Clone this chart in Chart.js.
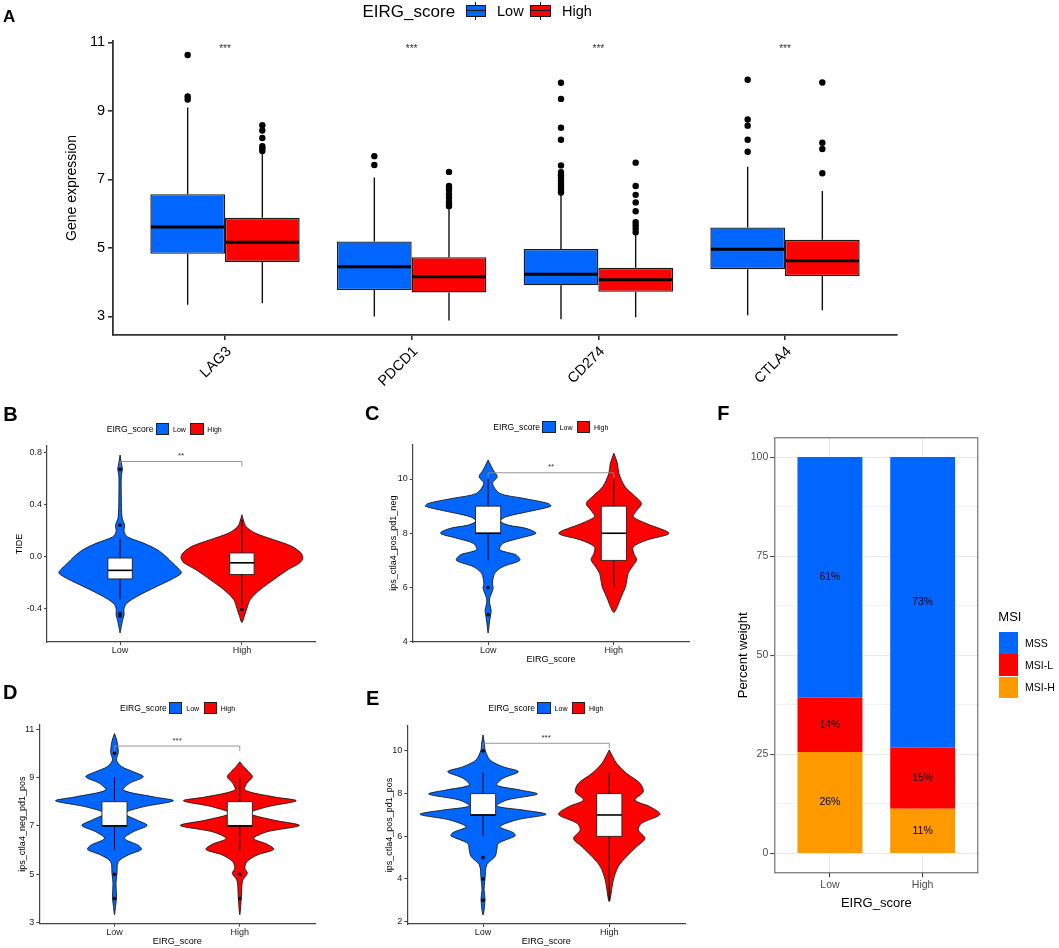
<!DOCTYPE html>
<html><head><meta charset="utf-8">
<script src="https://cdn.jsdelivr.net/npm/chart.js@4.4.1/dist/chart.umd.min.js"></script>
<style>
body{margin:0;background:#fff;width:1059px;height:948px;overflow:hidden;position:relative;font-family:'Liberation Sans',Arial,Helvetica,sans-serif;}
canvas{position:absolute;left:0;top:0;}
.t{position:absolute;white-space:nowrap;line-height:1;color:#000;}
.k{position:absolute;box-sizing:border-box;}
</style></head><body>
<script>
// ---------------- DATA ----------------
// Panel A: gene expression boxplots
const genes = ['LAG3', 'PDCD1', 'CD274', 'CTLA4'];
const groupNames = ['Low', 'High'];
const aTickValues = [3, 5, 7, 9, 11];
const lowWhiskerMin = [3.34, 3.00, 2.92, 3.04];
const lowQ1 = [4.83, 3.77, 3.91, 4.38];
const lowMedian = [5.61, 4.45, 4.23, 4.96];
const lowQ3 = [6.57, 5.19, 4.97, 5.60];
const lowWhiskerMax = [9.10, 7.06, 6.55, 7.37];
const lowOutliers = [
  [9.33, 9.42, 10.63],
  [7.42, 7.68],
  [6.62, 6.70, 6.78, 6.86, 6.95, 7.04, 7.12, 7.21, 7.41, 8.16, 8.51, 9.35, 9.82],
  [7.81, 8.16, 8.57, 8.75, 9.91]
];
const highWhiskerMin = [3.39, 2.88, 2.98, 3.18];
const highQ1 = [4.59, 3.70, 3.72, 4.18];
const highMedian = [5.17, 4.16, 4.07, 4.63];
const highQ3 = [5.88, 4.73, 4.42, 5.24];
const highWhiskerMax = [7.78, 6.18, 5.40, 6.66];
const highOutliers = [
  [7.83, 7.90, 7.97, 8.21, 8.43, 8.58],
  [6.22, 6.28, 6.34, 6.46, 6.56, 6.69, 6.75, 6.81, 7.22],
  [5.46, 5.56, 5.66, 5.75, 6.07, 6.33, 6.55, 6.81, 7.49],
  [7.18, 7.89, 8.07, 9.83]
];
const aSignif = ['***', '***', '***', '***'];

// Panel B: TIDE violins (value, half-width in category units)
const tideTicks = [-0.4, 0, 0.4, 0.8];
const tideLowY = [0.78, 0.72, 0.67, 0.62, 0.45, 0.30, 0.24, 0.19, 0.15, 0.10, 0.05, 0.00, -0.05, -0.10, -0.13, -0.18, -0.23, -0.28, -0.33, -0.37, -0.41, -0.45, -0.49, -0.54, -0.59];
const tideLowW = [0, 0.010, 0.019, 0.010, 0.010, 0.016, 0.037, 0.033, 0.060, 0.197, 0.306, 0.375, 0.429, 0.484, 0.503, 0.416, 0.306, 0.197, 0.101, 0.047, 0.031, 0.033, 0.021, 0.010, 0];
const tideHighY = [0.32, 0.28, 0.23, 0.18, 0.128, 0.077, 0.026, -0.013, -0.05, -0.10, -0.18, -0.256, -0.333, -0.40, -0.46, -0.51];
const tideHighW = [0, 0.012, 0.033, 0.107, 0.26, 0.41, 0.484, 0.50, 0.476, 0.383, 0.26, 0.15, 0.068, 0.041, 0.02, 0];
const tideLowBox = [-0.333, -0.174, -0.108, -0.013, 0.14];   // whisker-lo, q1, median, q3, whisker-hi
const tideHighBox = [-0.38, -0.14, -0.05, 0.026, 0.28];
const tideLowOut = [0.67, 0.24, -0.44, -0.46];
const tideHighOut = [-0.41];

// Panel C: ips_ctla4_pos_pd1_neg
const cTicks = [4, 6, 8, 10];
const cLowY = [10.7, 10.33, 10.08, 9.84, 9.47, 9.29, 9.1, 9.0, 8.86, 8.61, 8.45, 8.3, 8.18, 8.0, 7.82, 7.63, 7.39, 7.2, 7.0, 6.77, 6.53, 6.16, 5.97, 5.54, 5.15, 5.0, 4.7, 4.32];
const cLowW = [0, 0.04, 0.072, 0.034, 0.093, 0.278, 0.477, 0.499, 0.382, 0.143, 0.098, 0.159, 0.302, 0.379, 0.252, 0.119, 0.093, 0.223, 0.252, 0.119, 0.053, 0.034, 0.04, 0.010, 0.024, 0.02, 0.01, 0];
const cHighY = [10.95, 10.58, 10.2, 9.72, 9.4, 9.1, 8.8, 8.61, 8.35, 8.0, 7.75, 7.5, 7.25, 7.02, 6.75, 6.53, 6.28, 6.03, 5.8, 5.54, 5.3, 5.08];
const cHighW = [0, 0.028, 0.04, 0.088, 0.159, 0.219, 0.175, 0.154, 0.263, 0.438, 0.263, 0.154, 0.159, 0.181, 0.143, 0.114, 0.103, 0.093, 0.072, 0.048, 0.028, 0];
const cLowBox = [7, 8, 8, 9, 10];
const cHighBox = [6, 7, 8, 9, 10];
const cLowOut = [6, 5];
const cHighOut = [];

// Panel D: ips_ctla4_neg_pd1_pos
const dTicks = [3, 5, 7, 9, 11];
const dLowY = [10.82, 10.5, 10.03, 9.72, 9.45, 9.24, 9.03, 8.76, 8.48, 8.2, 8.04, 7.79, 7.52, 7.24, 7.02, 6.76, 6.48, 6.2, 6.03, 5.8, 5.52, 5.04, 4.63, 4.04, 3.67, 3.33];
const dLowW = [0, 0.02, 0.03, 0.016, 0.056, 0.15, 0.23, 0.12, 0.07, 0.31, 0.47, 0.23, 0.08, 0.18, 0.26, 0.15, 0.08, 0.19, 0.215, 0.11, 0.03, 0.02, 0.012, 0.016, 0.008, 0];
const dHighY = [9.65, 9.45, 9.24, 9.03, 8.76, 8.48, 8.2, 8.04, 7.79, 7.52, 7.24, 7.02, 6.76, 6.48, 6.24, 6.03, 5.8, 5.52, 5.25, 5.04, 4.77, 4.5, 4.04, 3.33];
const dHighW = [0, 0.03, 0.07, 0.1, 0.056, 0.04, 0.27, 0.45, 0.22, 0.08, 0.27, 0.475, 0.22, 0.11, 0.22, 0.27, 0.14, 0.056, 0.04, 0.06, 0.024, 0.016, 0.012, 0];
const dLowBox = [6, 7, 7, 8, 9];
const dHighBox = [6, 7, 7, 8, 9];
const dLowOut = [10, 5, 4];
const dHighOut = [5, 4];

// Panel E: ips_ctla4_pos_pd1_pos
const eTicks = [2, 4, 6, 8, 10];
const eLowY = [10.75, 10.3, 10.05, 9.58, 9.26, 9.03, 8.72, 8.4, 8.17, 7.98, 7.7, 7.42, 7.23, 7.03, 6.77, 6.45, 6.17, 6.02, 5.67, 5.36, 5.05, 4.66, 4.03, 3.49, 3.05, 2.31];
const eLowW = [0, 0.012, 0.016, 0.055, 0.158, 0.28, 0.158, 0.109, 0.293, 0.43, 0.188, 0.109, 0.317, 0.499, 0.267, 0.135, 0.24, 0.254, 0.121, 0.109, 0.095, 0.029, 0.016, 0.008, 0.016, 0];
const eHighY = [10.05, 9.42, 8.95, 8.49, 8.09, 7.7, 7.39, 7.03, 6.61, 6.3, 5.9, 5.51, 5.05, 4.58, 3.95, 2.94];
const eHighW = [0, 0.058, 0.137, 0.243, 0.269, 0.204, 0.322, 0.402, 0.256, 0.23, 0.283, 0.216, 0.137, 0.071, 0.032, 0];
const eLowBox = [6, 7, 7, 8, 9];
const eHighBox = [3, 6, 7, 8, 9];
const eLowOut = [10, 5, 4, 3];
const eHighOut = [];

// Panel F: MSI composition (%)
const msiGroups = ['Low', 'High'];
const msiLegend = ['MSS', 'MSI-L', 'MSI-H'];
const msiH = [25.6, 11.3];
const msiL = [13.7, 15.4];
const mss = [60.7, 73.3];
const fTicks = [0, 25, 50, 75, 100];
const fMinorTicks = [12.5, 37.5, 62.5, 87.5];

// ---------------- STYLE / HELPERS ----------------
const FONT = "'Liberation Sans', Arial, Helvetica, sans-serif";
const BLUE = '#0066FF', RED = '#FF0000', ORANGE = '#FF9900';
const W = 1059, H = 948;

function mkCanvas() {
  const c = document.createElement('canvas');
  c.width = W; c.height = H; c.style.width = W + 'px'; c.style.height = H + 'px';
  document.body.appendChild(c);
  return c;
}
function txt(s, x, y, size, opt) {
  opt = opt || {};
  const d = document.createElement('div');
  d.className = 't';
  d.textContent = s;
  d.style.fontSize = size + 'px';
  d.style.left = x + 'px'; d.style.top = y + 'px';
  if (opt.bold) d.style.fontWeight = 'bold';
  if (opt.color) d.style.color = opt.color;
  d.style.transform = opt.center ? 'translate(-50%,-50%)' : (opt.vmid ? 'translateY(-50%)' : '');
  document.body.appendChild(d);
  return d;
}
function box(x, y, w, h, bg, border) {
  const d = document.createElement('div');
  d.className = 'k';
  d.style.left = x + 'px'; d.style.top = y + 'px'; d.style.width = w + 'px'; d.style.height = h + 'px';
  d.style.background = bg;
  if (border) d.style.border = border;
  document.body.appendChild(d);
  return d;
}
function smallLegend(left, cy) {
  const fsT = 8.6, fsL = 7;
  let x = left;
  const t = txt('EIRG_score', x, cy, fsT, {vmid: true});
  x += t.getBoundingClientRect().width + 2;
  box(x, cy - 6, 13.5, 12, BLUE, '0.8px solid #222'); x += 13.5 + 4;
  const l = txt('Low', x, cy, fsL, {vmid: true}); x += l.getBoundingClientRect().width + 4.5;
  box(x, cy - 6, 13.5, 12, RED, '0.8px solid #222'); x += 13.5 + 3.5;
  txt('High', x, cy, fsL, {vmid: true});
}

// ---------------- PANEL A ----------------
const aLow = {lo: lowWhiskerMin, q1: lowQ1, med: lowMedian, q3: lowQ3, hi: lowWhiskerMax, out: lowOutliers};
const aHigh = {lo: highWhiskerMin, q1: highQ1, med: highMedian, q3: highQ3, hi: highWhiskerMax, out: highOutliers};
const aStats = [aLow, aHigh];
const boxAPlugin = {
  id: 'boxA',
  beforeDatasetsDraw(chart) {
    const y = chart.scales.y, ctx = chart.ctx;
    aStats.forEach((st, d) => {
      chart.getDatasetMeta(d).data.forEach((bar, i) => {
        ctx.save();
        ctx.strokeStyle = '#111'; ctx.lineWidth = 1.4;
        ctx.beginPath();
        ctx.moveTo(bar.x, y.getPixelForValue(st.q3[i])); ctx.lineTo(bar.x, y.getPixelForValue(st.hi[i]));
        ctx.moveTo(bar.x, y.getPixelForValue(st.q1[i])); ctx.lineTo(bar.x, y.getPixelForValue(st.lo[i]));
        ctx.stroke(); ctx.restore();
      });
    });
  },
  afterDatasetsDraw(chart) {
    const x = chart.scales.x, y = chart.scales.y, ctx = chart.ctx;
    aStats.forEach((st, d) => {
      chart.getDatasetMeta(d).data.forEach((bar, i) => {
        ctx.save();
        ctx.strokeStyle = '#000'; ctx.lineWidth = 3;
        const ym = y.getPixelForValue(st.med[i]);
        ctx.beginPath(); ctx.moveTo(bar.x - bar.width / 2 + 0.7, ym); ctx.lineTo(bar.x + bar.width / 2 - 0.7, ym); ctx.stroke();
        ctx.fillStyle = '#000';
        st.out[i].forEach(v => {
          ctx.beginPath(); ctx.arc(bar.x, y.getPixelForValue(v), 3.2, 0, Math.PI * 2); ctx.fill();
        });
        ctx.restore();
      });
    });
    ctx.save();
    ctx.fillStyle = '#333'; ctx.font = '10px ' + FONT; ctx.textAlign = 'center'; ctx.textBaseline = 'middle';
    genes.forEach((g, i) => ctx.fillText(aSignif[i], x.getPixelForValue(i), y.getPixelForValue(10.80)));
    ctx.restore();
  }
};
(function () {
  const aTitleFs = 14;
  const aLeftPad = 72.3 - aTitleFs * 1.2 / 2;
  const xH = 70;
  new Chart(mkCanvas(), {
    type: 'bar',
    data: {
      datasets: [
        {label: 'Low', data: genes.map((g, i) => ({x: i, y: [lowQ1[i], lowQ3[i]]})), backgroundColor: BLUE, borderColor: '#1a1a1a', borderWidth: 1.4, borderSkipped: false, categoryPercentage: 0.8, barPercentage: 1},
        {label: 'High', data: genes.map((g, i) => ({x: i, y: [highQ1[i], highQ3[i]]})), backgroundColor: RED, borderColor: '#1a1a1a', borderWidth: 1.4, borderSkipped: false, categoryPercentage: 0.8, barPercentage: 1}
      ]
    },
    options: {
      responsive: false, animation: false, events: [],
      layout: {padding: {left: aLeftPad, top: 41, right: W - 897, bottom: H - 335 - xH}},
      plugins: {legend: {display: false}, tooltip: {enabled: false}},
      scales: {
        x: {
          type: 'linear', min: -0.6, max: 3.6, offset: false,
          afterBuildTicks: s => { s.ticks = genes.map((g, i) => ({value: i})); },
          afterFit: s => { s.height = xH; },
          ticks: {callback: v => genes[v], color: '#000', font: {family: FONT, size: 14.5}, minRotation: 45, maxRotation: 45, padding: 3, labelOffset: 4, autoSkip: false},
          grid: {drawOnChartArea: false, drawTicks: true, tickLength: 5, color: '#333', lineWidth: 1.6, offset: false},
          border: {display: true, color: '#333', width: 1.8}
        },
        y: {
          min: 2.46, max: 11.04,
          afterBuildTicks: s => { s.ticks = aTickValues.map(v => ({value: v})); },
          afterFit: s => { s.width = 113 - aLeftPad; },
          ticks: {color: '#000', font: {family: FONT, size: 14.5}, padding: 3, callback: v => String(v)},
          grid: {drawOnChartArea: false, tickLength: 5, color: '#333', lineWidth: 1.6},
          border: {display: true, color: '#333', width: 1.8},
          title: {display: true, text: 'Gene expression', color: '#000', font: {family: FONT, size: aTitleFs}, padding: 0}
        }
      }
    },
    plugins: [boxAPlugin]
  });
})();

// ---------------- VIOLIN PANELS ----------------
function violinPoints(center, ys, ws) {
  const right = ys.map((y, i) => ({x: center + ws[i], y: y}));
  const left = ys.map((y, i) => ({x: center - ws[i], y: y})).reverse();
  return right.concat(left.slice(1));
}
const violinBoxPlugin = {
  id: 'violinBox',
  afterDatasetDraw(chart, args, opts) {
    if (args.index !== 1) return;
    const x = chart.scales.x, y = chart.scales.y, ctx = chart.ctx;
    const halfBox = x.getPixelForValue(0.1) - x.getPixelForValue(0);
    opts.boxes.forEach((b, g) => {
      const cx = x.getPixelForValue(g);
      ctx.save();
      ctx.strokeStyle = '#000'; ctx.lineWidth = 1;
      ctx.beginPath();
      ctx.moveTo(cx, y.getPixelForValue(b[0])); ctx.lineTo(cx, y.getPixelForValue(b[1]));
      ctx.moveTo(cx, y.getPixelForValue(b[3])); ctx.lineTo(cx, y.getPixelForValue(b[4]));
      ctx.stroke();
      const yt = y.getPixelForValue(b[3]), yb = y.getPixelForValue(b[1]);
      ctx.fillStyle = '#fff';
      ctx.fillRect(cx - halfBox, yt, halfBox * 2, yb - yt);
      ctx.lineWidth = 0.9; ctx.strokeStyle = '#222';
      ctx.strokeRect(cx - halfBox, yt, halfBox * 2, yb - yt);
      ctx.lineWidth = 1.6; ctx.strokeStyle = '#000';
      const ym = y.getPixelForValue(b[2]);
      ctx.beginPath(); ctx.moveTo(cx - halfBox, ym); ctx.lineTo(cx + halfBox, ym); ctx.stroke();
      ctx.restore();
    });
    // significance bracket
    const x0 = x.getPixelForValue(0), x1 = x.getPixelForValue(1), yb = y.getPixelForValue(opts.bracketY);
    ctx.save();
    ctx.strokeStyle = '#8a8a8a'; ctx.lineWidth = 0.9;
    ctx.beginPath();
    ctx.moveTo(x0, yb + 5); ctx.lineTo(x0, yb); ctx.lineTo(x1, yb); ctx.lineTo(x1, yb + 5);
    ctx.stroke();
    ctx.fillStyle = '#333'; ctx.font = '8px ' + FONT; ctx.textAlign = 'center'; ctx.textBaseline = 'middle';
    ctx.fillText(opts.stars, (x0 + x1) / 2, yb - 5.5);
    ctx.restore();
  }
};
function violinChart(c) {
  const fs = 9, lh = fs * 1.2;
  const scaleLeft = c.titleX - lh / 2;
  const xBottom = c.xTitle ? c.xTitleY + lh / 2 : c.bottom + 20;
  const outPts = c.outLow.map(v => ({x: 0, y: v})).concat(c.outHigh.map(v => ({x: 1, y: v})));
  new Chart(mkCanvas(), {
    type: 'line',
    data: {
      datasets: [
        {label: 'outliers', data: outPts, showLine: false, pointRadius: 1.8, pointBackgroundColor: '#000', pointBorderWidth: 0, pointBorderColor: '#000'},
        {label: 'Low', data: violinPoints(0, c.lowY, c.lowW), borderColor: '#1a1a1a', borderWidth: 0.9, backgroundColor: BLUE, fill: 'shape', tension: 0.3, pointRadius: 0},
        {label: 'High', data: violinPoints(1, c.highY, c.highW), borderColor: '#1a1a1a', borderWidth: 0.9, backgroundColor: RED, fill: 'shape', tension: 0.3, pointRadius: 0}
      ]
    },
    options: {
      responsive: false, animation: false, events: [],
      layout: {padding: {left: scaleLeft, top: c.top, right: W - c.right, bottom: H - xBottom}},
      plugins: {legend: {display: false}, tooltip: {enabled: false}, violinBox: {boxes: [c.lowBox, c.highBox], bracketY: c.bracketY, stars: c.stars}},
      scales: {
        x: {
          type: 'linear', min: -0.6, max: 1.6, offset: false,
          afterBuildTicks: s => { s.ticks = groupNames.map((g, i) => ({value: i})); },
          afterFit: s => { s.height = xBottom - c.bottom; },
          ticks: {callback: v => groupNames[v], color: '#222', font: {family: FONT, size: 9}, padding: 0.5, maxRotation: 0, autoSkip: false},
          grid: {drawOnChartArea: false, drawTicks: true, tickLength: 3, color: '#444', lineWidth: 1},
          border: {display: true, color: '#444', width: 1.2},
          title: {display: !!c.xTitle, text: c.xTitle || '', color: '#000', font: {family: FONT, size: fs}, padding: 0}
        },
        y: {
          min: c.yMin, max: c.yMax,
          afterBuildTicks: s => { s.ticks = c.ticks.map(v => ({value: v})); },
          afterFit: s => { s.width = c.left - scaleLeft; },
          ticks: {callback: c.fmt, color: '#222', font: {family: FONT, size: 9}, padding: 2},
          grid: {drawOnChartArea: false, drawTicks: true, tickLength: 3, color: '#444', lineWidth: 1},
          border: {display: true, color: '#444', width: 1.2},
          title: {display: true, text: c.yTitle, color: '#000', font: {family: FONT, size: fs}, padding: 0}
        }
      }
    },
    plugins: [violinBoxPlugin]
  });
}
violinChart({left: 47, right: 315, top: 446, bottom: 642, yMin: -0.66, yMax: 0.85, ticks: tideTicks, fmt: v => v.toFixed(1),
  yTitle: 'TIDE', titleX: 19.3, lowY: tideLowY, lowW: tideLowW, highY: tideHighY, highW: tideHighW,
  lowBox: tideLowBox, highBox: tideHighBox, outLow: tideLowOut, outHigh: tideHighOut, bracketY: 0.73, stars: '**'});
violinChart({left: 412.7, right: 689.3, top: 444.3, bottom: 642, yMin: 3.99, yMax: 11.28, ticks: cTicks, fmt: v => String(v),
  yTitle: 'ips_ctla4_pos_pd1_neg', titleX: 393.3, xTitle: 'EIRG_score', xTitleY: 660, lowY: cLowY, lowW: cLowW, highY: cHighY, highW: cHighW,
  lowBox: cLowBox, highBox: cHighBox, outLow: cLowOut, outHigh: cHighOut, bracketY: 10.23, stars: '**'});
violinChart({left: 39.3, right: 315, top: 724.5, bottom: 923.7, yMin: 2.96, yMax: 11.19, ticks: dTicks, fmt: v => String(v),
  yTitle: 'ips_ctla4_neg_pd1_pos', titleX: 22.7, xTitle: 'EIRG_score', xTitleY: 941.7, lowY: dLowY, lowW: dLowW, highY: dHighY, highW: dHighW,
  lowBox: dLowBox, highBox: dHighBox, outLow: dLowOut, outHigh: dHighOut, bracketY: 10.3, stars: '***'});
violinChart({left: 407.3, right: 685, top: 726, bottom: 924, yMin: 1.89, yMax: 11.17, ticks: eTicks, fmt: v => String(v),
  yTitle: 'ips_ctla4_pos_pd1_pos', titleX: 390, xTitle: 'EIRG_score', xTitleY: 941.7, lowY: eLowY, lowW: eLowW, highY: eHighY, highW: eHighW,
  lowBox: eLowBox, highBox: eHighBox, outLow: eLowOut, outHigh: eHighOut, bracketY: 10.36, stars: '***'});

// ---------------- PANEL F ----------------
const fLabelPlugin = {
  id: 'fLabels',
  afterDatasetsDraw(chart) {
    const ctx = chart.ctx, a = chart.chartArea;
    ctx.save();
    ctx.font = '10.5px ' + FONT; ctx.fillStyle = '#000'; ctx.textAlign = 'center'; ctx.textBaseline = 'middle';
    chart.data.datasets.forEach((ds, d) => {
      chart.getDatasetMeta(d).data.forEach((bar, i) => {
        ctx.fillText(Math.round(ds.data[i].y) + '%', bar.x, (bar.y + bar.base) / 2);
      });
    });
    ctx.strokeStyle = '#555'; ctx.lineWidth = 1;
    ctx.strokeRect(a.left + 0.5, a.top + 0.5, a.right - a.left - 1, a.bottom - a.top - 1);
    ctx.restore();
  }
};
(function () {
  const fs = 13, lh = fs * 1.2;
  const scaleLeft = 743 - lh / 2;
  const xBottom = 903 + lh / 2;
  const allY = fMinorTicks.concat(fTicks).sort((a, b) => a - b);
  new Chart(mkCanvas(), {
    type: 'bar',
    data: {
      datasets: [
        {label: 'MSI-H', data: msiGroups.map((g, i) => ({x: i, y: msiH[i]})), backgroundColor: ORANGE},
        {label: 'MSI-L', data: msiGroups.map((g, i) => ({x: i, y: msiL[i]})), backgroundColor: RED},
        {label: 'MSS', data: msiGroups.map((g, i) => ({x: i, y: mss[i]})), backgroundColor: BLUE}
      ]
    },
    options: {
      responsive: false, animation: false, events: [],
      datasets: {bar: {categoryPercentage: 0.7, barPercentage: 1, borderWidth: 0}},
      layout: {padding: {left: scaleLeft, top: 437.3, right: W - 978.3, bottom: H - xBottom}},
      plugins: {legend: {display: false}, tooltip: {enabled: false}},
      scales: {
        x: {
          type: 'linear', stacked: true, min: -0.6, max: 1.6, offset: false,
          afterBuildTicks: s => { s.ticks = msiGroups.map((g, i) => ({value: i})); },
          afterFit: s => { s.height = xBottom - 873.3; },
          ticks: {callback: v => msiGroups[v], color: '#4D4D4D', font: {family: FONT, size: 10.5}, padding: 2, maxRotation: 0, autoSkip: false},
          grid: {drawOnChartArea: true, drawTicks: true, tickLength: 4, color: '#EBEBEB', lineWidth: 1.1, tickColor: '#444', offset: false},
          border: {display: false},
          title: {display: true, text: 'EIRG_score', color: '#000', font: {family: FONT, size: fs}, padding: 0}
        },
        y: {
          stacked: true, min: -5, max: 105,
          afterBuildTicks: s => { s.ticks = allY.map(v => ({value: v})); },
          afterFit: s => { s.width = 774.3 - scaleLeft; },
          ticks: {callback: v => (fTicks.indexOf(v) >= 0 ? String(v) : ''), color: '#4D4D4D', font: {family: FONT, size: 10.5}, padding: 2, autoSkip: false},
          grid: {
            drawOnChartArea: true, drawTicks: true, tickLength: 4, color: '#EBEBEB',
            lineWidth: ctx => (ctx.tick && fTicks.indexOf(ctx.tick.value) >= 0 ? 1.1 : 0.6),
            tickColor: ctx => (ctx.tick && fTicks.indexOf(ctx.tick.value) >= 0 ? '#444' : 'rgba(0,0,0,0)')
          },
          border: {display: false},
          title: {display: true, text: 'Percent weight', color: '#000', font: {family: FONT, size: fs}, padding: 0}
        }
      }
    },
    plugins: [fLabelPlugin]
  });
})();

// ---------------- LEGENDS & LABELS ----------------
// panel A legend (boxplot glyph keys)
txt('EIRG_score', 362.5, 10.5, 17, {vmid: true});
function aKey(x, w, col) {
  box(x + w / 2 - 0.7, 1.5, 1.4, 18, '#1a1a1a');
  box(x, 4.5, w, 12, col, '1.3px solid #1a1a1a');
  box(x, 9.8, w, 1.6, '#1a1a1a');
}
aKey(465.5, 20, BLUE);
txt('Low', 497, 10.5, 14.5, {vmid: true});
aKey(530, 21, RED);
txt('High', 562, 10.5, 14.5, {vmid: true});

smallLegend(106.7, 429);
smallLegend(493.3, 426.7);
smallLegend(120, 708.3);
smallLegend(488.3, 708.3);

// panel F legend
txt('MSI', 998.3, 616.2, 13, {vmid: true});
const fKeyCols = [BLUE, RED, ORANGE];
const fKeyTops = [632.4, 654.4, 676.8];
msiLegend.forEach((name, i) => {
  box(999, fKeyTops[i], 19, 21.2, fKeyCols[i]);
  txt(name, 1025, fKeyTops[i] + 10.6, 10.5, {vmid: true});
});

// panel letters
txt('A', 3, 7.8, 17, {bold: true});
txt('B', 3.3, 404, 20, {bold: true});
txt('C', 365, 403.4, 20, {bold: true});
txt('D', 3, 682.4, 20, {bold: true});
txt('E', 366, 688.4, 20, {bold: true});
txt('F', 717.3, 403.2, 20, {bold: true});
</script>
</body></html>
